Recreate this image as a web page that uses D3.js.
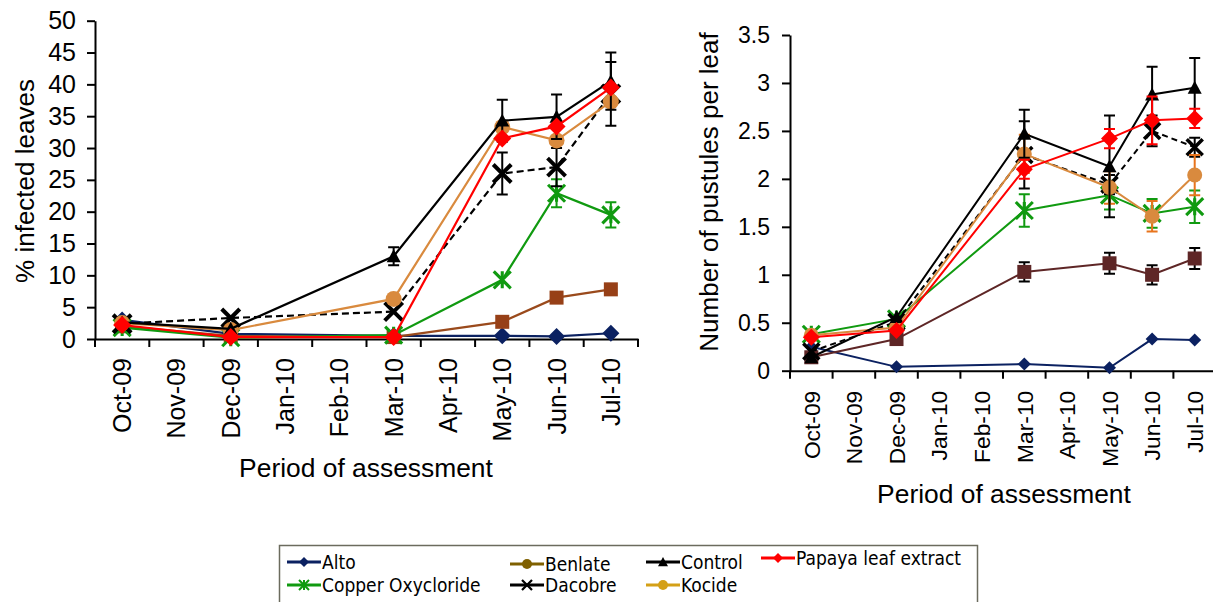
<!DOCTYPE html>
<html><head><meta charset="utf-8">
<script src="https://cdn.jsdelivr.net/npm/d3@7/dist/d3.min.js"></script>
<style>
body{margin:0;background:#fff;}
svg{display:block;}
text{font-family:"Liberation Sans",Arial,sans-serif;fill:#000;}
</style></head><body>
<svg id="c" width="1213" height="602"></svg>
<script>
// ---------- data ----------
const months = ["Oct-09","Nov-09","Dec-09","Jan-10","Feb-10","Mar-10","Apr-10","May-10","Jun-10","Jul-10"];
const sampleMonths = ["Oct-09","Dec-09","Mar-10","May-10","Jun-10","Jul-10"];
const leftTicks = [0,5,10,15,20,25,30,35,40,45,50];
const rightTicks = [0,0.5,1,1.5,2,2.5,3,3.5];

// % infected leaves
const leftAlto    = [3.0, 0.8, 0.5, 0.5, 0.4, 0.9];
const leftBenlate = [2.0, 0.5, 0.3, 2.7, 6.5, 7.8];
const leftCopper  = [1.8, 0.2, 0.6, 9.3, 22.9, 19.5];
const leftDacobre = [2.4, 3.3, 4.3, 26.0, 27.0, 38.5];
const leftKocide  = [2.5, 1.4, 6.3, 33.3, 31.2, 37.3];
const leftControl = [2.6, 1.6, 13.0, 34.3, 34.9, 40.5];
const leftPapaya  = [2.2, 0.3, 0.3, 31.5, 33.4, 39.5];
const leftCopperErr  = [0,0,0,0,2.2,2.0];
const leftDacobreErr = [0,0,0,3.3,3.0,5.0];
const leftControlErr = [0,0,1.4,3.3,3.5,4.5];

// Number of pustules per leaf
const rightAlto    = [0.25, 0.04, 0.07, 0.03, 0.33, 0.32];
const rightBenlate = [0.14, 0.33, 1.03, 1.12, 1.00, 1.17];
const rightCopper  = [0.38, 0.54, 1.67, 1.83, 1.64, 1.71];
const rightKocide  = [0.37, 0.45, 2.26, 1.91, 1.61, 2.04];
const rightDacobre = [0.20, 0.51, 2.25, 1.94, 2.50, 2.33];
const rightControl = [0.14, 0.56, 2.47, 2.13, 2.88, 2.95];
const rightPapaya  = [0.35, 0.42, 2.10, 2.42, 2.61, 2.63];
const rightBenlateErr = [0,0,0.10,0.11,0.10,0.11];
const rightCopperErr  = [0,0,0.17,0.15,0.15,0.17];
const rightKocideErr  = [0,0,0.20,0.17,0.16,0.21];
const rightDacobreErr = [0,0,0.35,0.10,0.16,0.10];
const rightControlErr = [0,0,0.25,0.53,0.29,0.31];
const rightPapayaErr  = [0,0,0.10,0.10,0.25,0.10];

const legendNames = ["Alto","Benlate","Control","Papaya leaf extract","Copper Oxycloride","Dacobre","Kocide"];

// ---------- helpers ----------
const svg = d3.select("#c");
const navy="#0b2161", green="#109a10", kocide="#d98a3e", red="#ff0000";

function marker(g, type, cx, cy, s, fill){
  const h=s/2;
  if(type==="diamond"){
    g.append("path").attr("d",`M${cx},${cy-h}L${cx+h},${cy}L${cx},${cy+h}L${cx-h},${cy}Z`).attr("fill",fill);
  } else if(type==="circle"){
    g.append("circle").attr("cx",cx).attr("cy",cy).attr("r",h).attr("fill",fill);
  } else if(type==="square"){
    g.append("rect").attr("x",cx-h).attr("y",cy-h).attr("width",s).attr("height",s).attr("fill",fill);
  } else if(type==="triangle"){
    g.append("path").attr("d",`M${cx},${cy-h}L${cx+h},${cy+h*0.85}L${cx-h},${cy+h*0.85}Z`).attr("fill",fill);
  } else if(type==="x"){
    g.append("path").attr("d",`M${cx-h},${cy-h}L${cx+h},${cy+h}M${cx+h},${cy-h}L${cx-h},${cy+h}`)
      .attr("stroke",fill).attr("stroke-width",Math.max(2,s/4.5)).attr("fill","none");
  } else if(type==="star"){
    g.append("path").attr("d",`M${cx-h},${cy-h}L${cx+h},${cy+h}M${cx+h},${cy-h}L${cx-h},${cy+h}M${cx},${cy-h}L${cx},${cy+h}`)
      .attr("stroke",fill).attr("stroke-width",Math.max(2,s/5.5)).attr("fill","none");
  }
}

function drawChart(cfg){
  const x = d3.scaleBand().domain(months).range(cfg.xr).padding(0);
  const y = d3.scaleLinear().domain(cfg.yd).range(cfg.yr);
  const cx = m => x(m)+x.bandwidth()/2;
  const g = svg.append("g");

  // y axis
  const ya = g.append("g").attr("transform",`translate(${cfg.xr[0]},0)`)
    .call(d3.axisLeft(y).tickValues(cfg.yTicks).tickSize(8).tickPadding(cfg.yPad).tickSizeOuter(0).tickFormat(d=>String(d)));
  ya.select(".domain").attr("stroke","#000").attr("stroke-width",2);
  ya.selectAll(".tick line").attr("stroke","#000").attr("stroke-width",2);
  ya.selectAll(".tick text").style("font-size",cfg.yFont+"px").style("font-family","Liberation Sans, Arial, sans-serif");

  // x axis (labels at band centers)
  const xa = g.append("g").attr("transform",`translate(0,${cfg.yr[0]})`)
    .call(d3.axisBottom(x).tickSize(0).tickSizeOuter(0));
  xa.select(".domain").attr("stroke","#000").attr("stroke-width",2);
  xa.selectAll(".tick text").attr("transform","rotate(-90)").attr("text-anchor","end")
    .attr("x",-cfg.xLabOff).attr("y",0).attr("dy","0.36em").style("font-size",cfg.xFont+"px")
    .style("font-family","Liberation Sans, Arial, sans-serif");
  // boundary ticks
  const bounds = months.map(m=>x(m)).concat([cfg.xr[1]]);
  g.selectAll(null).data(bounds).enter().append("line")
    .attr("x1",d=>d).attr("x2",d=>d).attr("y1",cfg.yr[0]).attr("y2",cfg.yr[0]+8)
    .attr("stroke","#000").attr("stroke-width",2);

  // titles
  g.append("text").attr("x",cfg.xTitle[0]).attr("y",cfg.xTitle[1]).attr("text-anchor","middle")
    .style("font-size",cfg.titleFont+"px").text("Period of assessment");
  g.append("text").attr("transform",`translate(${cfg.yTitle[0]},${cfg.yTitle[1]}) rotate(-90)`)
    .attr("text-anchor","middle").style("font-size",cfg.yTitleFont+"px")
    .text(cfg.yTitleText);

  const line = d3.line().x((d,i)=>cx(sampleMonths[i])).y(d=>y(d));
  cfg.series.forEach(s=>{
    const sg = g.append("g");
    sg.append("path").datum(s.v).attr("d",line).attr("fill","none").attr("stroke",s.color)
      .attr("stroke-width",cfg.lw).attr("stroke-dasharray",s.dash||null);
    if(s.err){
      s.v.forEach((v,i)=>{
        const e=s.err[i]; if(!e) return;
        const px=cx(sampleMonths[i]), y1=y(v+e), y2=y(v-e), w=cfg.cap;
        sg.append("path").attr("d",`M${px},${y1}L${px},${y2}M${px-w},${y1}L${px+w},${y1}M${px-w},${y2}L${px+w},${y2}`)
          .attr("stroke",s.errColor||s.color).attr("stroke-width",2).attr("fill","none");
      });
    }
    s.v.forEach((v,i)=>marker(sg,s.m,cx(sampleMonths[i]),y(v),s.size,s.mColor||s.color));
  });
}

drawChart({
  xr:[95,638], yd:[0,50], yr:[339,20.7], yTicks:leftTicks, yPad:11, yFont:25,
  xLabOff:19, xFont:25, xTitle:[366,477], titleFont:26.4, yTitle:[34,181], yTitleFont:26, yTitleText:"% infected leaves",
  lw:2.2, cap:5.5,
  series:[
    {v:leftAlto, color:navy, m:"diamond", size:17},
    {v:leftBenlate, color:"#9a4a1c", m:"square", size:14, mColor:"#974017"},
    {v:leftCopper, color:green, m:"star", size:17, err:leftCopperErr},
    {v:leftDacobre, color:"#000", m:"x", size:18, dash:"7,4", err:leftDacobreErr},
    {v:leftKocide, color:kocide, m:"circle", size:16},
    {v:leftControl, color:"#000", m:"triangle", size:14, err:leftControlErr},
    {v:leftPapaya, color:red, m:"diamond", size:18}
  ]
});

drawChart({
  xr:[790,1216], yd:[0,3.5], yr:[370.7,35], yTicks:rightTicks, yPad:12, yFont:23,
  xLabOff:20, xFont:22.8, xTitle:[1004,503], titleFont:26.4, yTitle:[718,192], yTitleFont:26, yTitleText:"Number of pustules per leaf",
  lw:2, cap:5.5,
  series:[
    {v:rightAlto, color:navy, m:"diamond", size:13},
    {v:rightBenlate, color:"#5e2626", m:"square", size:14, err:rightBenlateErr, errColor:"#000"},
    {v:rightCopper, color:green, m:"star", size:17, err:rightCopperErr},
    {v:rightDacobre, color:"#000", m:"x", size:16, dash:"6,4", err:rightDacobreErr},
    {v:rightKocide, color:kocide, m:"circle", size:15, err:rightKocideErr, errColor:"#e8741c"},
    {v:rightControl, color:"#000", m:"triangle", size:14, err:rightControlErr},
    {v:rightPapaya, color:red, m:"diamond", size:17, err:rightPapayaErr}
  ]
});

// ---------- legend ----------
const lg = svg.append("g");
lg.append("rect").attr("x",279.5).attr("y",545.5).attr("width",698).attr("height",70)
  .attr("fill","#fff").attr("stroke","#6b6b5e").attr("stroke-width",1.5);
const legendColors = [navy,"#7f6000","#000",red,green,"#000","#d4a017"];
const legendMarkers = ["diamond","circle","triangle","diamond","star","x","circle"];
const legendPos = [[287,562],[510,564],[646,562],[761,558],[287,585],[510,585],[646,585]];
legendNames.forEach((n,i)=>{
  const [lx,ly]=legendPos[i];
  lg.append("line").attr("x1",lx).attr("x2",lx+34).attr("y1",ly).attr("y2",ly)
    .attr("stroke",legendColors[i]).attr("stroke-width",3);
  marker(lg,legendMarkers[i],lx+17,ly,10,legendColors[i]);
  lg.append("text").attr("x",lx+35).attr("y",ly).attr("dy","0.35em")
    .style("font-family","DejaVu Sans Condensed, DejaVu Sans, sans-serif").style("font-size","19px").text(n);
});
</script>
</body></html>
